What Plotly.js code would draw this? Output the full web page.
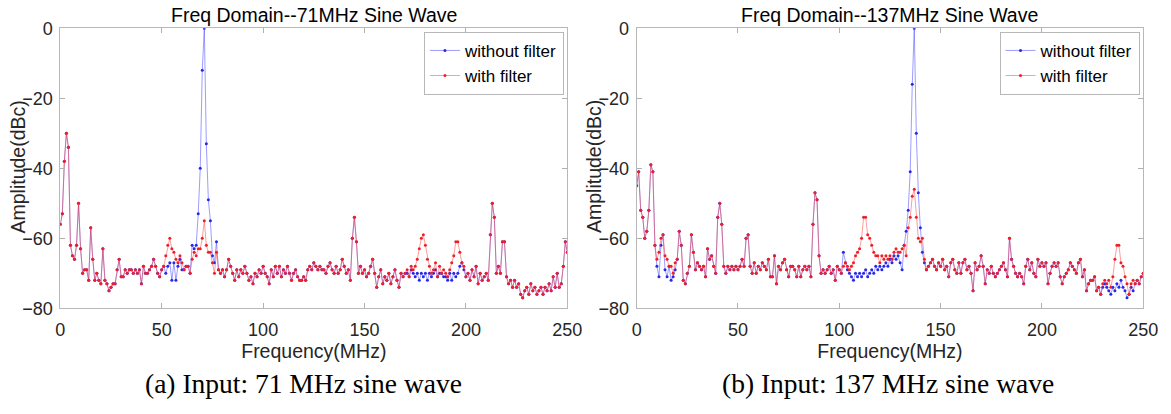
<!DOCTYPE html>
<html>
<head>
<meta charset="utf-8">
<script src="https://cdn.plot.ly/plotly-3.0.1.min.js"></script>
<style>html,body{margin:0;padding:0;background:#fff;}#chart{width:1171px;height:414px;}</style>
</head>
<body>
<div id="chart"></div>
<script>
// Frequency bins (MHz), 1 MHz spacing 0..250
var freqStepMHz = 1;
var freqCount = 251;
var freq = [];
for (var i = 0; i < freqCount; i++) freq.push(i * freqStepMHz);

// (a) 71 MHz input: amplitude (dBc)
var a_without = [
-56,-53,-38,-30,-34,-62,-65,-66,-62,-50,
-63,-70,-69,-69,-72,-57,-66,-72,-70,-72,
-73,-63,-72,-73,-75,-74,-73,-73,-69,-66,
-71,-71,-69,-70,-69,-69,-70,-69,-70,-69,
-73,-68,-70,-70,-69,-68,-66,-68,-70,-71,
-69,-68,-70,-68,-67,-72,-67,-72,-68,-66,
-69,-69,-68,-68,-70,-62,-63,-62,-53,-40,
-12,0,-33,-49,-55,-65,-67,-61,-69,-70,
-69,-71,-69,-66,-68,-70,-72,-69,-71,-69,
-70,-68,-70,-72,-71,-73,-70,-71,-69,-70,
-68,-70,-71,-73,-69,-71,-68,-70,-68,-71,
-69,-70,-68,-70,-72,-70,-69,-71,-72,-72,
-71,-72,-69,-68,-69,-67,-68,-69,-68,-69,
-69,-70,-68,-67,-69,-70,-68,-70,-69,-66,
-68,-70,-69,-72,-60,-54,-61,-70,-68,-70,
-69,-71,-70,-68,-66,-70,-74,-71,-69,-73,
-71,-72,-70,-73,-71,-69,-72,-74,-70,-71,
-70,-70,-71,-69,-70,-71,-70,-72,-70,-71,
-70,-72,-70,-71,-70,-69,-71,-70,-70,-71,
-71,-72,-70,-72,-70,-71,-70,-68,-67,-69,
-71,-70,-72,-69,-71,-68,-73,-70,-72,-71,
-70,-72,-59,-50,-54,-70,-68,-70,-61,-61,
-71,-73,-72,-74,-72,-74,-73,-76,-77,-75,
-74,-76,-73,-75,-74,-76,-75,-74,-76,-74,
-75,-73,-75,-71,-74,-70,-74,-73,-68,-61,
-64
];
var a_with = [
-56,-53,-38,-30,-34,-62,-65,-66,-62,-50,
-63,-70,-69,-69,-72,-57,-66,-72,-70,-72,
-73,-63,-72,-73,-75,-74,-73,-73,-69,-66,
-71,-71,-69,-70,-69,-69,-70,-69,-70,-69,
-73,-68,-70,-70,-69,-68,-66,-68,-70,-71,
-69,-68,-65,-62,-60,-63,-64,-66,-67,-65,
-67,-69,-68,-68,-70,-66,-64,-65,-63,-63,
-60,-55,-62,-64,-64,-67,-70,-64,-69,-70,
-69,-71,-69,-66,-68,-70,-72,-69,-71,-69,
-70,-68,-70,-72,-71,-73,-70,-71,-69,-70,
-68,-70,-71,-73,-69,-71,-68,-70,-68,-71,
-69,-70,-68,-70,-72,-70,-69,-71,-72,-72,
-71,-72,-69,-68,-69,-67,-68,-69,-68,-69,
-69,-70,-68,-67,-69,-70,-68,-70,-69,-66,
-68,-70,-69,-72,-60,-54,-61,-70,-68,-70,
-69,-71,-70,-68,-66,-70,-74,-71,-69,-73,
-71,-72,-70,-73,-71,-69,-72,-74,-70,-71,
-70,-69,-71,-68,-69,-68,-66,-63,-60,-59,
-62,-66,-68,-70,-69,-67,-71,-68,-70,-69,
-70,-71,-69,-67,-65,-61,-61,-64,-67,-68,
-71,-70,-72,-69,-71,-68,-73,-70,-72,-71,
-70,-72,-59,-50,-54,-70,-68,-70,-61,-61,
-71,-73,-72,-74,-72,-74,-73,-76,-77,-75,
-74,-76,-73,-75,-74,-76,-75,-74,-76,-74,
-75,-73,-75,-71,-74,-70,-74,-73,-68,-61,
-64
];

// (b) 137 MHz input: amplitude (dBc)
var b_without = [
-45,-41,-52,-54,-60,-58,-52,-39,-41,-62,
-68,-71,-62,-59,-69,-71,-68,-72,-71,-69,
-66,-58,-62,-72,-73,-70,-68,-59,-64,-69,
-67,-68,-69,-68,-71,-63,-66,-65,-68,-70,
-54,-50,-56,-68,-70,-68,-69,-68,-69,-68,
-69,-68,-66,-68,-60,-59,-68,-70,-67,-70,
-68,-69,-67,-68,-69,-66,-71,-71,-65,-73,
-68,-69,-67,-66,-69,-71,-68,-68,-69,-71,
-68,-71,-69,-68,-69,-68,-71,-56,-47,-49,
-65,-70,-69,-70,-69,-68,-70,-69,-72,-68,
-69,-70,-64,-67,-69,-70,-71,-72,-70,-71,
-70,-71,-70,-69,-71,-70,-69,-70,-68,-69,
-68,-69,-68,-67,-68,-66,-67,-65,-66,-65,
-67,-69,-62,-58,-52,-41,-16,0,-30,-47,
-57,-64,-67,-69,-68,-67,-66,-68,-69,-67,
-68,-66,-69,-68,-71,-67,-66,-69,-70,-67,
-70,-67,-66,-69,-68,-70,-75,-67,-69,-68,
-65,-68,-73,-69,-70,-68,-70,-71,-70,-69,
-68,-67,-69,-71,-60,-66,-68,-70,-71,-70,
-71,-73,-68,-66,-69,-67,-70,-71,-66,-68,
-67,-68,-67,-73,-70,-68,-67,-68,-67,-71,
-73,-71,-70,-69,-67,-68,-69,-70,-67,-66,
-71,-69,-75,-73,-72,-72,-71,-75,-74,-76,
-74,-73,-74,-75,-76,-74,-75,-73,-74,-72,
-74,-75,-77,-76,-74,-75,-73,-72,-73,-71,
-70
];
var b_with = [
-45,-41,-52,-54,-60,-58,-52,-39,-41,-62,
-66,-64,-60,-59,-65,-66,-68,-68,-70,-67,
-66,-58,-62,-72,-73,-70,-68,-59,-64,-69,
-67,-68,-69,-68,-71,-63,-66,-65,-68,-70,
-54,-50,-56,-68,-70,-68,-69,-68,-69,-68,
-69,-68,-66,-68,-60,-59,-68,-70,-67,-70,
-68,-69,-67,-68,-69,-66,-71,-71,-65,-73,
-68,-69,-67,-66,-69,-71,-68,-68,-69,-71,
-68,-71,-69,-68,-69,-68,-71,-56,-47,-49,
-65,-70,-69,-70,-69,-68,-70,-69,-72,-68,
-69,-70,-68,-67,-68,-69,-68,-67,-65,-64,
-63,-60,-54,-54,-59,-60,-62,-64,-65,-65,
-67,-65,-66,-65,-66,-65,-66,-64,-63,-64,
-64,-63,-62,-65,-57,-54,-48,-46,-54,-60,
-61,-60,-66,-69,-68,-67,-66,-68,-69,-67,
-68,-66,-69,-68,-71,-67,-66,-69,-70,-67,
-70,-67,-66,-69,-68,-70,-75,-67,-69,-68,
-65,-68,-73,-69,-70,-68,-70,-71,-70,-69,
-68,-67,-69,-71,-60,-66,-68,-70,-71,-70,
-71,-73,-68,-66,-69,-67,-70,-71,-66,-68,
-67,-68,-67,-73,-70,-68,-67,-68,-67,-71,
-73,-71,-70,-69,-67,-68,-69,-70,-67,-66,
-71,-69,-75,-73,-72,-72,-71,-75,-74,-76,
-73,-72,-73,-72,-74,-71,-66,-62,-62,-67,
-68,-71,-73,-76,-73,-72,-73,-72,-73,-71,
-70
];

var seriesNames = ['without filter', 'with filter'];
var titles = ['Freq Domain--71MHz Sine Wave', 'Freq Domain--137MHz Sine Wave'];
var captions = ['(a) Input: 71 MHz sine wave', '(b) Input: 137 MHz sine wave'];
var xTitle = 'Frequency(MHz)';
var yTitle = 'Amplitude(dBc)';
var xTicks = [0, 50, 100, 150, 200, 250];
var yTicks = [-80, -60, -40, -20, 0];

var blueLine = 'rgba(60,60,255,0.5)', blueMark = 'rgb(40,40,235)';
var redLine = 'rgba(255,60,60,0.5)', redMark = 'rgb(240,30,40)';

function tr(y, name, lc, mc, xa, ya, lg) {
  return {
    x: freq, y: y, name: name, type: 'scatter', mode: 'lines+markers',
    line: {color: lc, width: 1}, marker: {color: mc, size: 3},
    xaxis: xa, yaxis: ya, legend: lg
  };
}
var data = [
  tr(a_without, seriesNames[0], blueLine, blueMark, 'x', 'y', 'legend'),
  tr(a_with, seriesNames[1], redLine, redMark, 'x', 'y', 'legend'),
  tr(b_without, seriesNames[0], blueLine, blueMark, 'x2', 'y2', 'legend2'),
  tr(b_with, seriesNames[1], redLine, redMark, 'x2', 'y2', 'legend2')
];

var sans = 'Liberation Sans, Arial, sans-serif';
var tickFont = {family: sans, size: 18, color: '#262626'};
var axTitleFont = {family: sans, size: 19.5, color: '#262626'};
function xax(dom, anchor) {
  return {
    domain: dom, anchor: anchor, range: [0, 250], tickvals: xTicks,
    ticks: 'inside', ticklen: 5, tickcolor: '#b0b0b0', mirror: 'ticks',
    showline: true, linecolor: '#b8b8b8', linewidth: 1, showgrid: false, zeroline: false,
    tickfont: tickFont, ticklabelstandoff: 5,
    title: {text: xTitle, font: axTitleFont, standoff: 4}
  };
}
function yax(anchor) {
  return {
    domain: [0.2553, 0.9316], anchor: anchor, range: [-80, 0], tickvals: yTicks,
    ticks: 'inside', ticklen: 5, tickcolor: '#b0b0b0', mirror: 'ticks',
    showline: true, linecolor: '#b8b8b8', linewidth: 1, showgrid: false, zeroline: false,
    tickfont: tickFont, ticklabelstandoff: 3
  };
}
var legFont = {family: sans, size: 17, color: '#000'};
function leg(x) {
  return {x: x, y: 0.923, xanchor: 'right', yanchor: 'top', bgcolor: '#fff',
    bordercolor: '#b8b8b8', borderwidth: 1, font: legFont, itemwidth: 30,
    tracegroupgap: 0};
}
var titleFont = {family: sans, size: 19.5, color: '#000'};
var capFont = {family: 'Liberation Serif, Times New Roman, serif', size: 27.5, color: '#000'};
function ann(text, xPx, yPx, font, angle) {
  return {text: text, x: xPx / 1171, y: 1 - yPx / 414, xref: 'paper', yref: 'paper',
    xanchor: 'center', yanchor: 'middle', showarrow: false, font: font, textangle: angle || 0};
}
var layout = {
  width: 1171, height: 414, margin: {l: 0, r: 0, t: 0, b: 0},
  paper_bgcolor: '#fff', plot_bgcolor: '#fff', showlegend: true,
  xaxis: xax([0.0515, 0.4845], 'y'), yaxis: yax('x'),
  xaxis2: xax([0.5437, 0.9763], 'y2'), yaxis2: yax('x2'),
  legend: leg(0.4816), legend2: leg(0.9731),
  annotations: [
    ann(titles[0], 313.5, 15, titleFont),
    ann(titles[1], 889, 15, titleFont),
    ann(yTitle, 17.5, 167, axTitleFont, -90),
    ann(yTitle, 594, 167, axTitleFont, -90),
    ann(captions[0], 303.5, 383, capFont),
    ann(captions[1], 887.5, 383, capFont)
  ]
};
Plotly.newPlot('chart', data, layout, {staticPlot: true, displayModeBar: false});
</script>
</body>
</html>
